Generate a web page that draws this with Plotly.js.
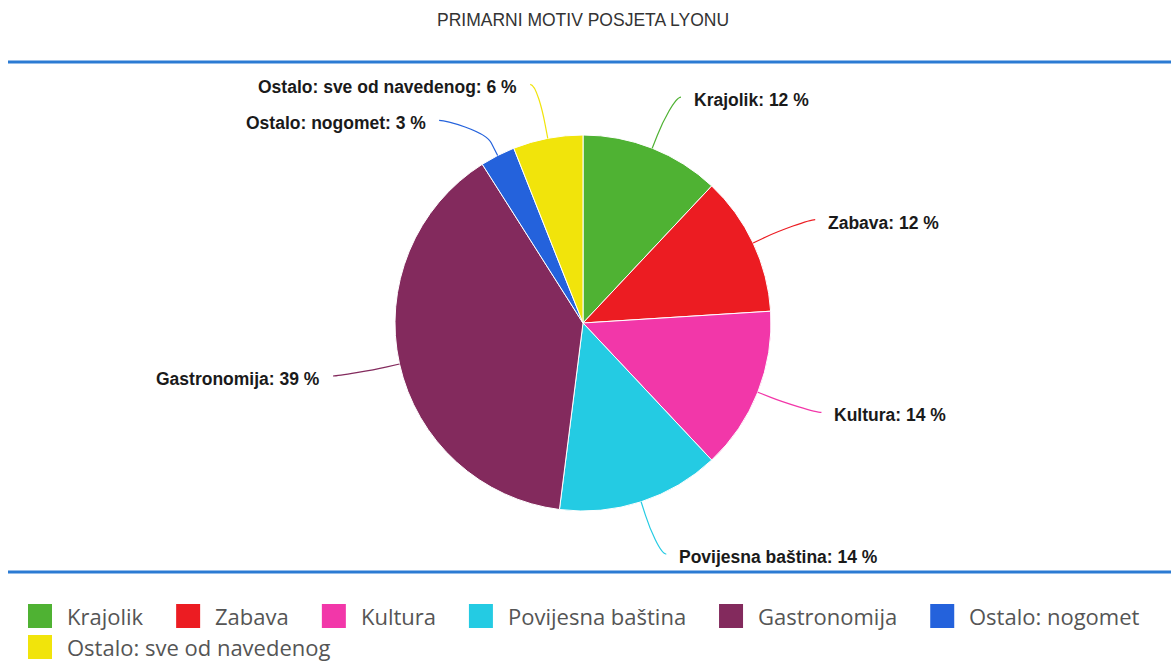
<!DOCTYPE html>
<html><head><meta charset="utf-8">
<script src="https://cdn.plot.ly/plotly-3.0.1.min.js"></script>
<style>html,body{margin:0;padding:0;background:#fff;overflow:hidden}</style>
</head><body><div id="chart" style="width:1171px;height:661px"></div>
<script>
// ---- data ----
const chartTitle = "PRIMARNI MOTIV POSJETA LYONU";
const categories = ["Krajolik","Zabava","Kultura","Povijesna baština","Gastronomija","Ostalo: nogomet","Ostalo: sve od navedenog"];
const shares = [12, 12, 14, 14, 39, 3, 6];
const colors = ["#4fb233","#ec1c22","#f237a9","#24cbe3","#832a5d","#2462dc","#f1e40b"];

// ---- geometry ----
const W = 1171, H = 661;
const cx = 583, cy = 323, R = 188;
const labelRx = 250, labelRy = 243, breakR = R + 14, minGap = 36;
const X = px => px / W, Y = py => 1 - py / H;

const total = shares.reduce((a, b) => a + b, 0);
let cum = 0;
const items = shares.map((v, i) => {
  const a0 = cum / total * 2 * Math.PI; cum += v;
  const a1 = cum / total * 2 * Math.PI;
  const th = (a0 + a1) / 2;
  const s = Math.sin(th), c = Math.cos(th);
  return { i, v, th, side: s >= 0 ? 1 : -1,
    E: [cx + R * s, cy - R * c], B: [cx + breakR * s, cy - breakR * c],
    y: cy - labelRy * c };
});
// simple collision handling per half: move the smaller slice's label away
[1, -1].forEach(side => {
  const list = items.filter(d => d.side === side).sort((a, b) => a.y - b.y);
  for (let k = 1; k < list.length; k++) {
    const a = list[k - 1], b = list[k];
    if (b.y - a.y < minGap) {
      if (b.v <= a.v) b.y = a.y + minGap; else a.y = b.y - minGap;
    }
  }
});
items.forEach(d => {
  const t = (d.y - cy) / labelRy;
  d.x = cx + d.side * labelRx * Math.sqrt(Math.max(0, 1 - t * t));
});

const shapes = [];
const annotations = [];
// separator lines
[62, 572].forEach(py => shapes.push({type: 'line', xref: 'paper', yref: 'paper',
  x0: X(8), x1: 1, y0: Y(py), y1: Y(py), line: {color: '#2b7bd3', width: 3}}));

items.forEach(d => {
  const s = d.side;
  const c2 = [2 * d.B[0] - d.E[0], 2 * d.B[1] - d.E[1]];
  const p = `M ${X(d.x + s * 6)} ${Y(d.y)} C ${X(d.x)} ${Y(d.y)} ${X(c2[0])} ${Y(c2[1])} ${X(d.B[0])} ${Y(d.B[1])} L ${X(d.E[0])} ${Y(d.E[1])}`;
  shapes.push({type: 'path', xref: 'paper', yref: 'paper', path: p,
    line: {color: colors[d.i], width: 1.2}});
  annotations.push({xref: 'paper', yref: 'paper', x: X(d.x + s * 17), y: Y(d.y + 3),
    xanchor: s > 0 ? 'left' : 'right', yanchor: 'middle', showarrow: false,
    text: `${categories[d.i]}: ${d.v} %`,
    font: {family: 'Liberation Sans, Arial, sans-serif', size: 17.5, color: '#1a1a1a', weight: 'bold'}});
});

// title
annotations.push({xref: 'paper', yref: 'paper', x: X(583), y: Y(20), xanchor: 'center', yanchor: 'middle',
  showarrow: false, text: chartTitle,
  font: {family: 'Liberation Sans, Arial, sans-serif', size: 17.5, color: '#333'}});

// custom legend
const legFont = 22, legFam = 'Open Sans';
const ctx = document.createElement('canvas').getContext('2d');
ctx.font = `${legFont}px "${legFam}"`;
let lx = 28, ly = 616;
const sq = 24, textOff = 37, itemGap = 35, rowH = 31;
categories.forEach((cat, i) => {
  const tw = ctx.measureText(cat).width;
  if (lx + textOff + tw > W - 10) { lx = 28; ly += rowH; }
  shapes.push({type: 'rect', xref: 'paper', yref: 'paper', x0: X(lx), x1: X(lx + sq),
    y0: Y(ly - sq / 2), y1: Y(ly + sq / 2), fillcolor: colors[i], line: {width: 0}});
  annotations.push({xref: 'paper', yref: 'paper', x: X(lx + textOff), y: Y(ly), xanchor: 'left', yanchor: 'middle',
    showarrow: false, text: cat, font: {family: legFam, size: legFont, color: '#555'}});
  lx += textOff + tw + itemGap;
});

const trace = {
  type: 'pie', labels: categories, values: shares, sort: false,
  direction: 'clockwise', rotation: 0, textinfo: 'none', hoverinfo: 'label+percent',
  marker: {colors: colors, line: {color: '#ffffff', width: 1}},
  domain: {x: [X(cx - R), X(cx + R)], y: [Y(cy + R), Y(cy - R)]},
  showlegend: false
};

Plotly.newPlot('chart', [trace], {
  width: W, height: H, margin: {l: 0, r: 0, t: 0, b: 0},
  paper_bgcolor: '#fff', plot_bgcolor: '#fff', showlegend: false,
  shapes, annotations
}, {displayModeBar: false, staticPlot: true});
</script></body></html>
